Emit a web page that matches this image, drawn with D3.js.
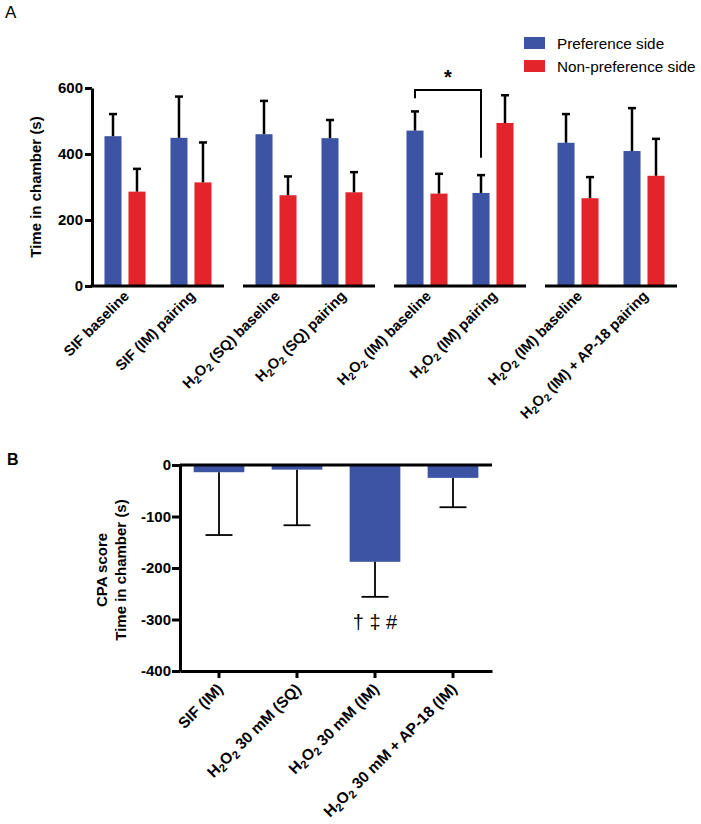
<!DOCTYPE html>
<html>
<head>
<meta charset="utf-8">
<script src="https://cdn.jsdelivr.net/npm/d3@7"></script>
<style>
  body { margin: 0; background: #fff; }
  svg text { font-family: Arial, "Liberation Sans", Helvetica, sans-serif; fill: #000; }
  .axis path, .axis line { stroke: #000; stroke-width: 3; }
  .axis text { font-size: 15px; font-weight: bold; }
</style>
</head>
<body>
<script>
// panel A : time in chamber, two sides per condition
var labelsA = ["SIF baseline", "SIF (IM) pairing", "H2O2 (SQ) baseline", "H2O2 (SQ) pairing",
               "H2O2 (IM) baseline", "H2O2 (IM) pairing", "H2O2 (IM) baseline", "H2O2 (IM) + AP-18 pairing"];
var seriesA = ["Preference side", "Non-preference side"];
var prefMean = [454, 449, 460, 448, 471, 282, 434, 409];
var prefErr  = [67, 125, 101, 55, 58, 54, 87, 130];
var nonMean  = [286, 314, 275, 284, 280, 494, 266, 334];
var nonErr   = [69, 121, 57, 61, 60, 84, 64, 112];
var ticksA = [0, 200, 400, 600];

// panel B : CPA score
var labelsB = ["SIF (IM)", "H2O2 30 mM (SQ)", "H2O2 30 mM (IM)", "H2O2 30 mM + AP-18 (IM)"];
var cpaMean = [-14, -9, -188, -25];
var cpaErr  = [122, 108, 68, 57];
var ticksB = [0, -100, -200, -300, -400];

var blue = "#3d54a5", red = "#e2252b";

var svg = d3.select("body").append("svg")
  .attr("width", 701)
  .attr("height", 824);

// writes a label, turning H2O2 into subscripts
function chem(text, str) {
  var parts = str.split(/(H2O2)/), shift = 0;
  function add(t, sub) {
    var ts = text.append("tspan").text(t);
    var dy = (sub ? 3 : 0) - shift;
    if (dy) ts.attr("dy", dy);
    if (sub) ts.attr("font-size", "0.72em");
    shift = sub ? 3 : 0;
  }
  parts.forEach(function(p) {
    if (p === "") return;
    if (p === "H2O2") {
      add("H"); add("2", true); add("O"); add("2", true);
    } else {
      add(p);
    }
  });
}

/* ---------- panel A ---------- */
var yA = d3.scaleLinear().domain([0, 600]).range([286, 88]);
var xSeg = d3.scaleBand().domain([0, 1, 2, 3]).range([92, 677]).paddingInner(0.126);
var xCat = d3.scaleBand().domain([0, 1]).range([0, xSeg.bandwidth()]);
var xSide = d3.scaleBand().domain(seriesA).range([0, xCat.bandwidth()])
  .paddingInner(0.29).paddingOuter(0.52);

function catX(i) { return xSeg(Math.floor(i / 2)) + xCat(i % 2); }

var rowsA = [];
labelsA.forEach(function(l, i) {
  rowsA.push({i: i, s: seriesA[0], v: prefMean[i], e: prefErr[i], c: blue});
  rowsA.push({i: i, s: seriesA[1], v: nonMean[i], e: nonErr[i], c: red});
});

var gA = svg.append("g");

gA.selectAll("rect.bar").data(rowsA).enter().append("rect")
  .attr("class", "bar")
  .attr("x", function(d) { return catX(d.i) + xSide(d.s); })
  .attr("y", function(d) { return yA(d.v); })
  .attr("width", xSide.bandwidth())
  .attr("height", function(d) { return yA(0) - yA(d.v); })
  .attr("fill", function(d) { return d.c; });

// error bars (up only)
var errA = gA.selectAll("g.err").data(rowsA).enter().append("g")
  .attr("transform", function(d) {
    return "translate(" + (catX(d.i) + xSide(d.s) + xSide.bandwidth() / 2) + ",0)";
  });
errA.append("line")
  .attr("y1", function(d) { return yA(d.v); })
  .attr("y2", function(d) { return yA(d.v + d.e); })
  .attr("stroke", "#000").attr("stroke-width", 2.5);
errA.append("line")
  .attr("x1", -4).attr("x2", 4)
  .attr("y1", function(d) { return yA(d.v + d.e); })
  .attr("y2", function(d) { return yA(d.v + d.e); })
  .attr("stroke", "#000").attr("stroke-width", 2.5);

// baseline of each segment
gA.selectAll("line.base").data([0, 1, 2, 3]).enter().append("line")
  .attr("x1", function(s) { return s === 0 ? xSeg(s) - 1.5 : xSeg(s); })
  .attr("x2", function(s) { return xSeg(s) + xSeg.bandwidth(); })
  .attr("y1", yA(0)).attr("y2", yA(0))
  .attr("stroke", "#000").attr("stroke-width", 3);

gA.append("g").attr("class", "axis")
  .attr("transform", "translate(92,0)")
  .call(d3.axisLeft(yA).tickValues(ticksA).tickSize(7).tickSizeOuter(0).tickPadding(2));

gA.append("text")
  .attr("transform", "translate(41," + ((yA(0) + yA(600)) / 2) + ") rotate(-90)")
  .attr("text-anchor", "middle")
  .style("font-size", "15px").style("font-weight", "bold")
  .text("Time in chamber (s)");

gA.selectAll("text.xl").data(labelsA).enter().append("text")
  .attr("class", "xl")
  .attr("text-anchor", "end")
  .attr("transform", function(d, i) {
    return "translate(" + (catX(i) + xCat.bandwidth() / 2 + 5) + "," + (yA(0) + 11) + ") rotate(-45)";
  })
  .style("font-size", "14.6px").style("font-weight", "bold")
  .each(function(d) { chem(d3.select(this), d); });

// significance bracket between the two H2O2 (IM) preference bars
var br = {a: 4, b: 5, top: 594, endA: 569, endB: 389};
var bxA = catX(br.a) + xSide(seriesA[0]) + xSide.bandwidth() / 2;
var bxB = catX(br.b) + xSide(seriesA[0]) + xSide.bandwidth() / 2;
gA.append("path")
  .attr("d", "M" + bxA + "," + yA(br.endA) + "V" + yA(br.top) + "H" + bxB + "V" + yA(br.endB))
  .attr("fill", "none").attr("stroke", "#000").attr("stroke-width", 2);
gA.append("text")
  .attr("x", (bxA + bxB) / 2).attr("y", yA(br.top) - 6)
  .attr("text-anchor", "middle")
  .style("font-size", "20px").style("font-weight", "bold")
  .text("*");

// legend
var leg = gA.selectAll("g.leg").data(seriesA).enter().append("g")
  .attr("transform", function(d, i) { return "translate(524," + (37 + i * 23) + ")"; });
leg.append("rect").attr("width", 21).attr("height", 12)
  .attr("fill", function(d, i) { return i === 0 ? blue : red; });
leg.append("text").attr("x", 33).attr("y", 11.5)
  .style("font-size", "15.3px")
  .text(function(d) { return d; });

svg.append("text").attr("x", 5).attr("y", 18)
  .style("font-size", "17px").text("A");

/* ---------- panel B ---------- */
var yB = d3.scaleLinear().domain([-400, 0]).range([671, 465]);
var xB = d3.scaleBand().domain(labelsB).range([180, 492]).paddingInner(0.35).paddingOuter(0.175);
var gB = svg.append("g");

gB.selectAll("rect").data(cpaMean).enter().append("rect")
  .attr("x", function(d, i) { return xB(labelsB[i]); })
  .attr("y", yB(0))
  .attr("width", xB.bandwidth())
  .attr("height", function(d) { return yB(d) - yB(0); })
  .attr("fill", blue);

var errB = gB.selectAll("g.err").data(cpaMean).enter().append("g")
  .attr("transform", function(d, i) {
    return "translate(" + (xB(labelsB[i]) + xB.bandwidth() / 2) + ",0)";
  });
errB.append("line")
  .attr("y1", function(d) { return yB(d); })
  .attr("y2", function(d, i) { return yB(d - cpaErr[i]); })
  .attr("stroke", "#000").attr("stroke-width", 1.8);
errB.append("line")
  .attr("x1", -13.5).attr("x2", 13.5)
  .attr("y1", function(d, i) { return yB(d - cpaErr[i]); })
  .attr("y2", function(d, i) { return yB(d - cpaErr[i]); })
  .attr("stroke", "#000").attr("stroke-width", 1.8);

// zero line
gB.append("line")
  .attr("x1", 180).attr("x2", 492)
  .attr("y1", yB(0)).attr("y2", yB(0))
  .attr("stroke", "#000").attr("stroke-width", 3);

gB.append("g").attr("class", "axis")
  .attr("transform", "translate(180,0)")
  .call(d3.axisLeft(yB).tickValues(ticksB).tickSize(8).tickSizeOuter(0).tickPadding(1)
    .tickFormat(function(d) { return String(d); }));

gB.append("g").attr("class", "axis")
  .attr("transform", "translate(0," + yB(-400) + ")")
  .call(d3.axisBottom(xB).tickSize(7).tickSizeOuter(0).tickFormat(""));

gB.selectAll("text.xl").data(labelsB).enter().append("text")
  .attr("class", "xl")
  .attr("text-anchor", "end")
  .attr("transform", function(d) {
    return "translate(" + (xB(d) + xB.bandwidth() / 2 + 5) + "," + (yB(-400) + 19) + ") rotate(-45)";
  })
  .style("font-size", "15.5px").style("font-weight", "bold")
  .each(function(d) { chem(d3.select(this), d); });

var yt = gB.append("text")
  .attr("transform", "translate(0,570) rotate(-90)")
  .attr("text-anchor", "middle")
  .style("font-size", "15px").style("font-weight", "bold");
yt.append("tspan").attr("x", 0).attr("y", 107).text("CPA score");
yt.append("tspan").attr("x", 0).attr("y", 126).text("Time in chamber (s)");

gB.append("text")
  .attr("x", xB(labelsB[2]) + xB.bandwidth() / 2)
  .attr("y", yB(cpaMean[2] - cpaErr[2]) + 32)
  .attr("text-anchor", "middle")
  .style("font-size", "20px")
  .text("\u2020 \u2021 #");

svg.append("text").attr("x", 7).attr("y", 465)
  .style("font-size", "16px").style("font-weight", "bold").text("B");
</script>
</body>
</html>
